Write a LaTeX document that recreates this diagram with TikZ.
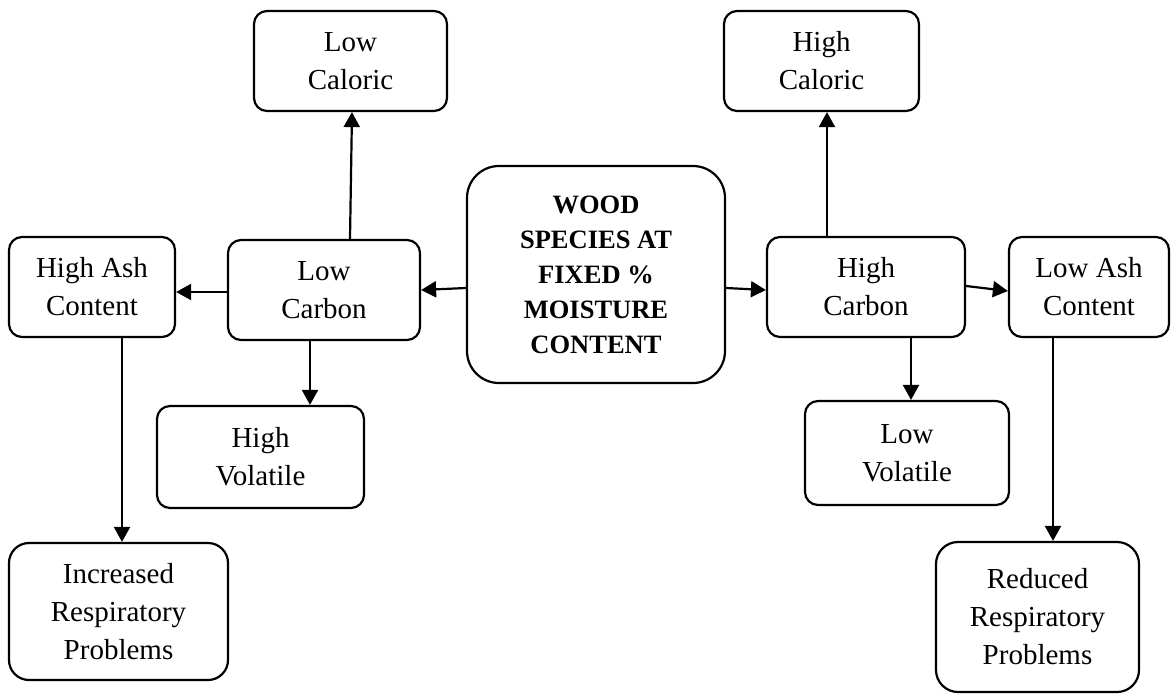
\documentclass[tikz,border=0pt]{standalone}
\usepackage{fontspec}
\setmainfont{Liberation Serif}
\usetikzlibrary{arrows.meta,calc}
\begin{document}
\begin{tikzpicture}[x=1pt,y=-1pt,
  box/.style={draw,line width=2.2pt,rounded corners=13pt,align=center,inner sep=0pt,
    font=\fontsize{29}{38}\selectfont},
  bigbox/.style={box,rounded corners=32pt,font=\fontsize{26.5}{35}\selectfont\bfseries},
  arr/.style={line width=2.2pt,-{Triangle[length=15pt,width=16pt]}}]
\useasboundingbox (0,0) rectangle (1172,694);
\node[box,minimum width=193pt,minimum height=100pt] (lcal) at (350.5,61) {Low\\Caloric};
\node[box,minimum width=195pt,minimum height=100pt] (hcal) at (821.5,61) {High\\Caloric};
\node[bigbox,minimum width=258pt,minimum height=217pt] (wood) at (596,274.5) {WOOD\\SPECIES AT\\FIXED \%\\MOISTURE\\CONTENT};
\node[box,minimum width=192pt,minimum height=100pt] (lcarb) at (324,290) {Low\\Carbon};
\node[box,minimum width=166pt,minimum height=100pt] (hash) at (92,287) {High Ash\\Content};
\node[box,minimum width=198pt,minimum height=100pt] (hcarb) at (866,287) {High\\Carbon};
\node[box,minimum width=160pt,minimum height=100pt] (lash) at (1089,287) {Low Ash\\Content};
\node[box,minimum width=207pt,minimum height=102pt] (hvol) at (260.5,457) {High\\Volatile};
\node[box,minimum width=204pt,minimum height=104pt] (lvol) at (907,453) {Low\\Volatile};
\node[box,rounded corners=20pt,minimum width=219pt,minimum height=137pt] (inc) at (118.5,611.5) {Increased\\Respiratory\\Problems};
\node[box,rounded corners=22pt,minimum width=203pt,minimum height=150pt] (red) at (1037.5,617) {Reduced\\Respiratory\\Problems};
\draw[arr] ($(wood.west)+(0,13.5)$) -- (lcarb.east);
\draw[arr] ($(wood.east)+(0,13.5)$) -- ($(hcarb.west)+(0,3)$);
\draw[arr] ($(lcarb.west)+(0,2)$) -- ($(hash.east)+(0,5)$);
\draw[arr] ($(lcarb.north)+(26,0)$) -- ($(lcal.south)+(1.5,0)$);
\draw[arr] ($(lcarb.south)+(-14,0)$) -- ($(hvol.north)+(49.5,0)$);
\draw[arr] ($(hash.south)+(30,0)$) -- ($(inc.north)+(3.5,0)$);
\draw[arr] ($(hcarb.north)+(-39,0)$) -- ($(hcal.south)+(5.5,0)$);
\draw[arr] ($(hcarb.east)+(0,-1)$) -- ($(lash.west)+(0,4)$);
\draw[arr] ($(hcarb.south)+(45,0)$) -- ($(lvol.north)+(4,0)$);
\draw[arr] ($(lash.south)+(-36,0)$) -- ($(red.north)+(15.5,0)$);
\end{tikzpicture}
\end{document}
